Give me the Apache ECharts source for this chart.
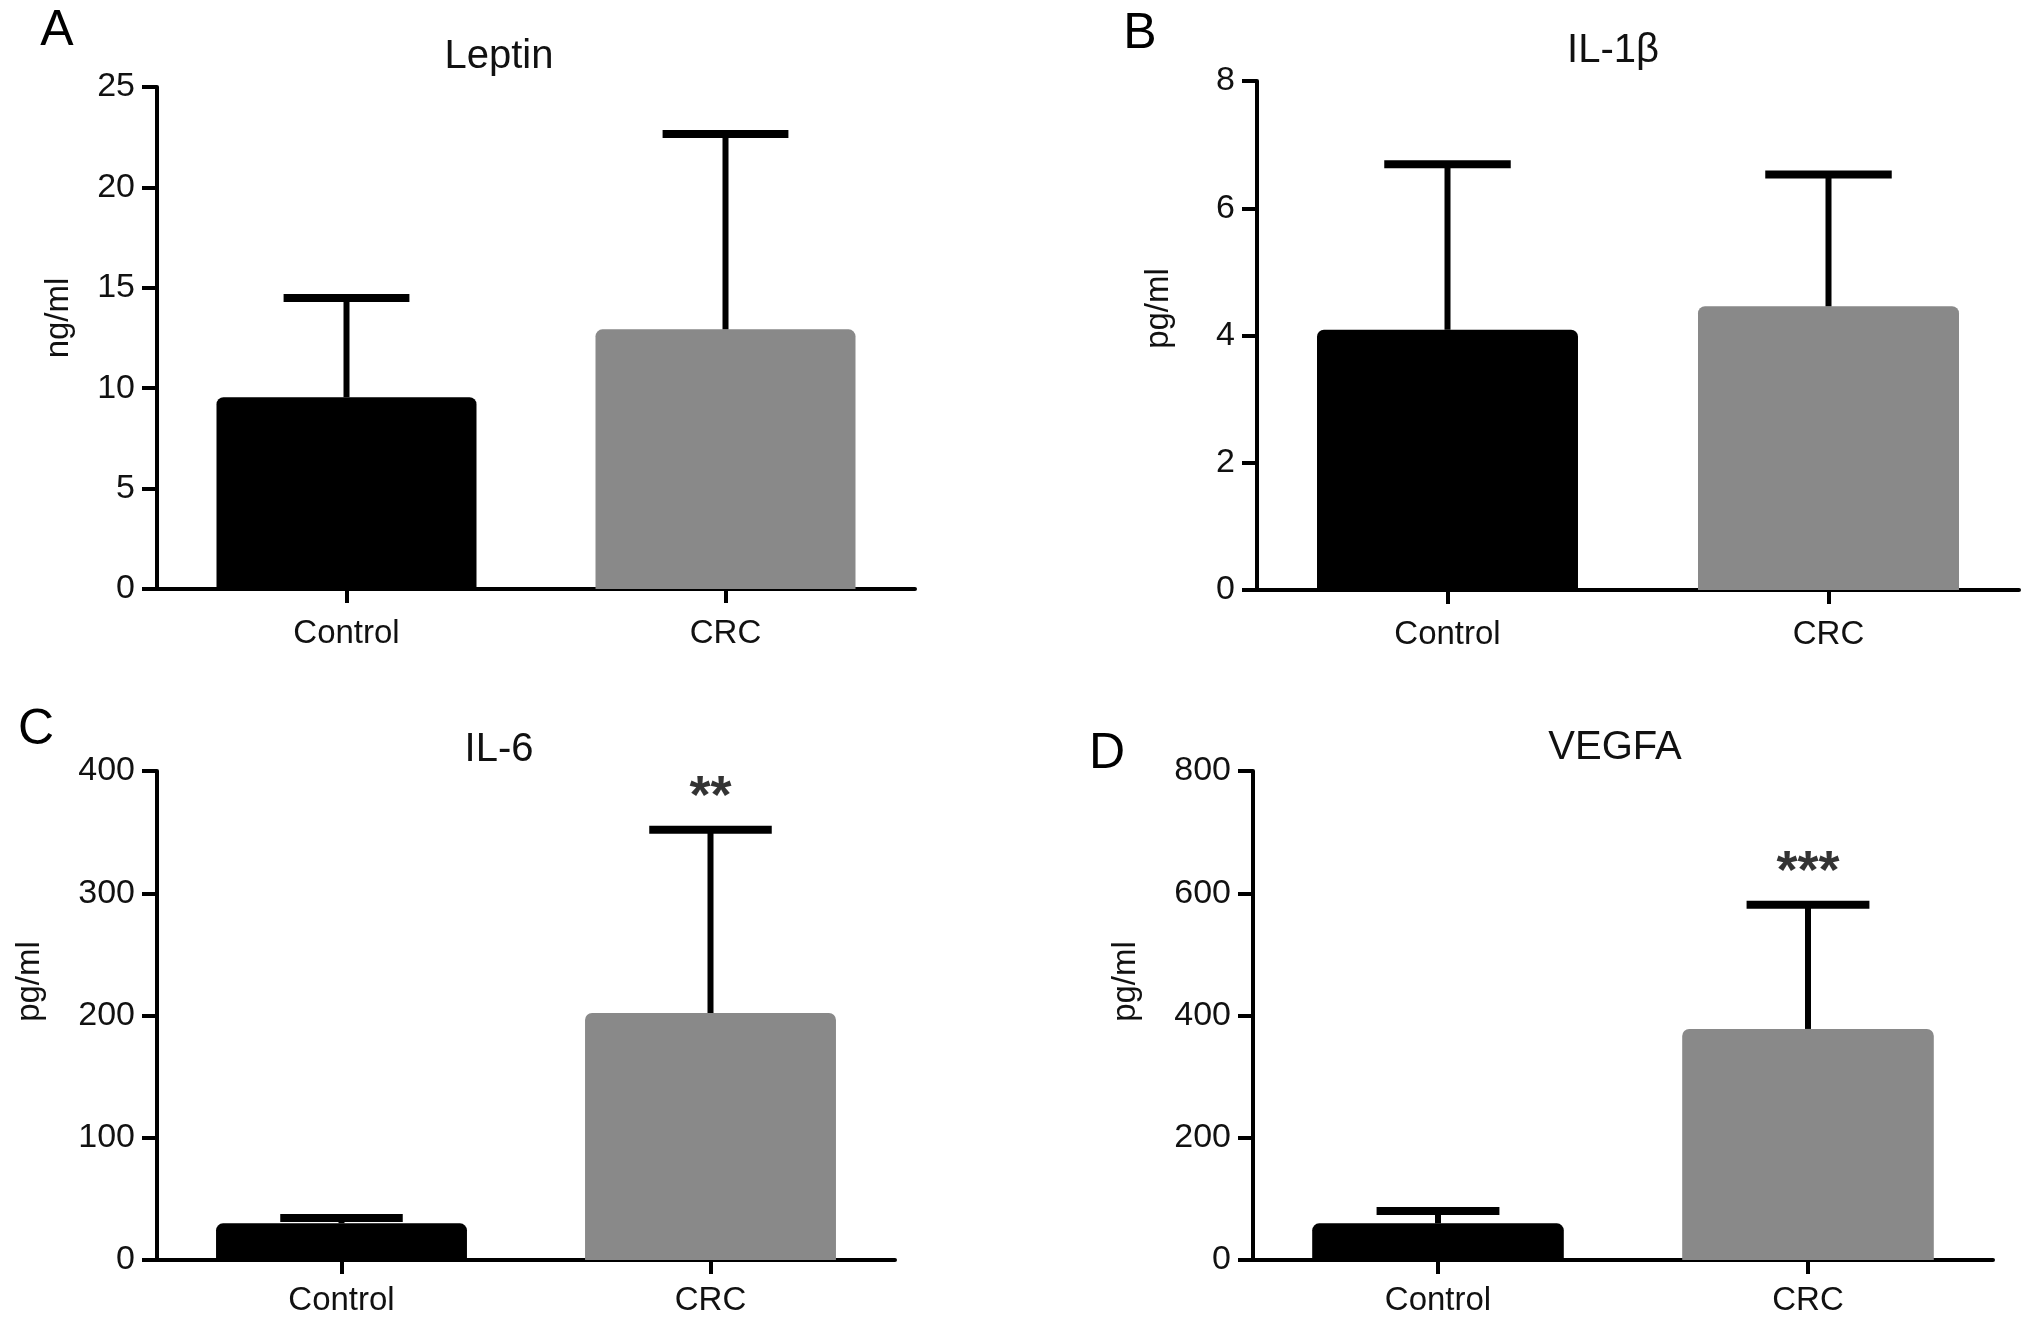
<!DOCTYPE html>
<html>
<head>
<meta charset="utf-8">
<script src="https://cdn.jsdelivr.net/npm/echarts@6/dist/echarts.min.js"></script>
<style>
html,body{margin:0;padding:0;background:#fff;}
#chart{width:2032px;height:1323px;}
</style>
</head>
<body>
<div id="chart"></div>
<script>
const categories = ['Control', 'CRC'];

const leptinMean = [9.55, 12.93];
const leptinSD = [4.94, 9.73];

const il1bMean = [4.09, 4.46];
const il1bSD = [2.60, 2.07];

const il6Mean = [30, 202];
const il6SD = [4.4, 150];

const vegfaMean = [60, 378];
const vegfaSD = [20, 203];

const panelTitles = ['Leptin', 'IL-1β', 'IL-6', 'VEGFA'];
const panelLetters = ['A', 'B', 'C', 'D'];
const yNames = ['ng/ml', 'pg/ml', 'pg/ml', 'pg/ml'];
const yMax = [25, 8, 400, 800];
const yStep = [5, 2, 100, 200];
const sigLabels = ['', '', '**', '***'];
const sigValues = [null, null, 378, 633];

const barColors = ['#000000', '#898989'];
const FONT = 'Liberation Sans, Arial, Helvetica, sans-serif';

const grids = [
  {left: 157, top: 87, width: 758, height: 502},
  {left: 1257, top: 81, width: 762, height: 509},
  {left: 157, top: 771, width: 738, height: 489},
  {left: 1253, top: 771, width: 740, height: 489}
];
const barWidths = ['68.6%', '68.5%', '68%', '68%'];
const nameGaps = [82, 82, 111, 111];
const nameShift = [40, 54, 68, 68];
const catMargins = [28, 28, 24, 24];
const titlePos = [[494, 32], [1608, 26], [494, 725], [1610, 723]];
const letterPos = [[57, 31], [1140, 34], [36, 730], [1107, 754]];

const means = [leptinMean, il1bMean, il6Mean, vegfaMean];
const sds = [leptinSD, il1bSD, il6SD, vegfaSD];

const chart = echarts.init(document.getElementById('chart'));

const xAxes = [], yAxes = [], series = [], titles = [], graphics = [];

for (let p = 0; p < 4; p++) {
  xAxes.push({
    type: 'category', gridIndex: p, data: categories,
    axisLine: {lineStyle: {color: '#000', width: 4}},
    axisTick: {show: true, alignWithLabel: true, length: 14, lineStyle: {color: '#000', width: 4}},
    axisLabel: {color: '#111', fontSize: 33, fontFamily: FONT, margin: catMargins[p]}
  });
  yAxes.push({
    type: 'value', gridIndex: p, min: 0, max: yMax[p], interval: yStep[p],
    name: yNames[p], nameLocation: 'middle', nameGap: nameGaps[p], nameRotate: 90,
    nameTextStyle: {color: '#111', fontSize: 33, fontFamily: FONT, padding: [0, 0, 0, nameShift[p]]},
    axisLine: {show: true, lineStyle: {color: '#000', width: 4}},
    axisTick: {show: true, length: 15, lineStyle: {color: '#000', width: 4}},
    axisLabel: {color: '#111', fontSize: 34, fontFamily: FONT, margin: 22},
    splitLine: {show: false}
  });
  series.push({
    type: 'bar', xAxisIndex: p, yAxisIndex: p, barWidth: barWidths[p],
    data: means[p].map((v, i) => ({value: v, itemStyle: {color: barColors[i], borderRadius: [7, 7, 0, 0]}})),
    z: 2, silent: true
  });
  series.push({
    type: 'custom', xAxisIndex: p, yAxisIndex: p, z: 10, silent: true,
    data: means[p].map((m, i) => [i, m, m + sds[p][i]]),
    renderItem: function (params, api) {
      const base = api.coord([api.value(0), api.value(1)]);
      const top = api.coord([api.value(0), api.value(2)]);
      const band = api.size([1, 0])[0];
      const half = band * 0.166;
      return {
        type: 'group',
        children: [
          {type: 'line', shape: {x1: base[0], y1: base[1], x2: top[0], y2: top[1]}, style: {stroke: '#000', lineWidth: 6}},
          {type: 'line', shape: {x1: top[0] - half, y1: top[1], x2: top[0] + half, y2: top[1]}, style: {stroke: '#000', lineWidth: 8}}
        ]
      };
    }
  });
  if (sigLabels[p]) {
    series.push({
      type: 'scatter', xAxisIndex: p, yAxisIndex: p, symbolSize: 0, silent: true,
      data: [[categories[1], sigValues[p]]],
      label: {show: true, position: 'inside', formatter: sigLabels[p], color: '#000', fontSize: 54, fontWeight: 'bold', fontFamily: FONT}
    });
  }
  titles.push({
    text: panelTitles[p], left: titlePos[p][0], top: titlePos[p][1], textAlign: 'center',
    textStyle: {color: '#111', fontSize: 40, fontWeight: 'normal', fontFamily: FONT}
  });
  graphics.push({
    type: 'text', x: letterPos[p][0], y: letterPos[p][1],
    style: {text: panelLetters[p], fill: '#000', font: '50px ' + FONT, textAlign: 'center', textVerticalAlign: 'middle'}
  });
}

chart.setOption({
  backgroundColor: '#fff',
  animation: false,
  title: titles,
  grid: grids,
  xAxis: xAxes,
  yAxis: yAxes,
  series: series,
  graphic: graphics
});
</script>
</body>
</html>
